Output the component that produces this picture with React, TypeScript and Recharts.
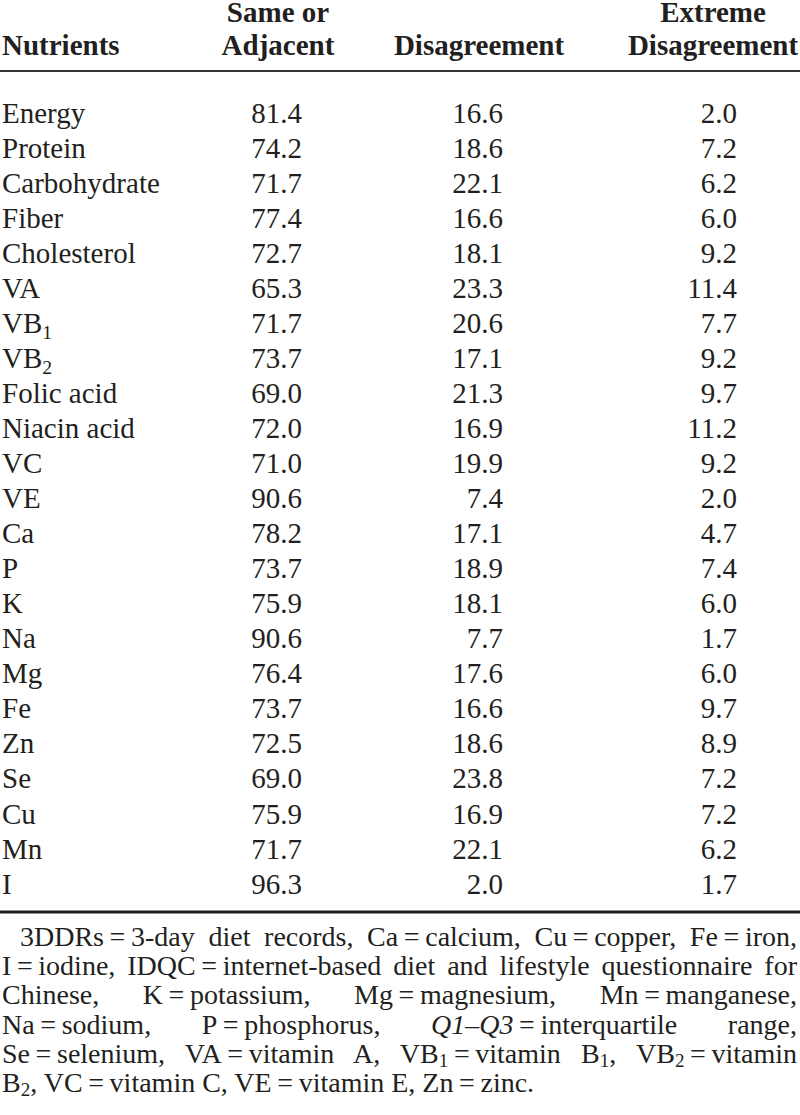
import React from "react";
import { ScatterChart, Scatter, XAxis, YAxis, Customized } from "recharts";

const nutrients = [
  "Energy", "Protein", "Carbohydrate", "Fiber", "Cholesterol", "VA", "VB_1", "VB_2",
  "Folic acid", "Niacin acid", "VC", "VE", "Ca", "P", "K", "Na", "Mg", "Fe", "Zn",
  "Se", "Cu", "Mn", "I",
];
const sameOrAdjacent = [
  81.4, 74.2, 71.7, 77.4, 72.7, 65.3, 71.7, 73.7, 69.0, 72.0, 71.0, 90.6, 78.2, 73.7,
  75.9, 90.6, 76.4, 73.7, 72.5, 69.0, 75.9, 71.7, 96.3,
];
const disagreement = [
  16.6, 18.6, 22.1, 16.6, 18.1, 23.3, 20.6, 17.1, 21.3, 16.9, 19.9, 7.4, 17.1, 18.9,
  18.1, 7.7, 17.6, 16.6, 18.6, 23.8, 16.9, 22.1, 2.0,
];
const extremeDisagreement = [
  2.0, 7.2, 6.2, 6.0, 9.2, 11.4, 7.7, 9.2, 9.7, 11.2, 9.2, 2.0, 4.7, 7.4, 6.0, 1.7,
  6.0, 9.7, 8.9, 7.2, 7.2, 6.2, 1.7,
];
const columns = ["name", "same", "dis", "ext"];
const headerLines = [["Nutrients"], ["Same or", "Adjacent"], ["Disagreement"], ["Extreme", "Disagreement"]];
const footnoteLines = [
  "3DDRs = 3-day diet records, Ca = calcium, Cu = copper, Fe = iron,",
  "I = iodine, IDQC = internet-based diet and lifestyle questionnaire for",
  "Chinese, K = potassium, Mg = magnesium, Mn = manganese,",
  "Na = sodium, P = phosphorus, *Q1–Q3* = interquartile range,",
  "Se = selenium, VA = vitamin A, VB_1 = vitamin B_1, VB_2 = vitamin",
  "B_2, VC = vitamin C, VE = vitamin E, Zn = zinc.",
];

const INK = "#231f20";
const FONT = '"Liberation Serif", "Times New Roman", serif';
const FS = 29;
const W = 800;
const CHART_H = 915;
const ROW_TOP = 95;
const ROW_H = 35.05;

// where each column's text hangs relative to its band centre
const colLayout: Record<string, { anchor: "start" | "end"; dx: number }> = {
  name: { anchor: "start", dx: -98 },
  same: { anchor: "end", dx: 2 },
  dis: { anchor: "end", dx: 3 },
  ext: { anchor: "end", dx: 37 },
};
// header text: x and anchor per column
const headerPos: { x: number; anchor: "start" | "middle" }[] = [
  { x: 2, anchor: "start" },
  { x: 278, anchor: "middle" },
  { x: 479, anchor: "middle" },
  { x: 713, anchor: "middle" },
];
const headerBase = [22, 55];

const series = [
  { key: "name", values: nutrients },
  { key: "same", values: sameOrAdjacent.map((v) => v.toFixed(1)) },
  { key: "dis", values: disagreement.map((v) => v.toFixed(1)) },
  { key: "ext", values: extremeDisagreement.map((v) => v.toFixed(1)) },
];

function splitSub(label: string) {
  const [main, sub] = label.split("_");
  return { main, sub };
}

function CellText(props: any) {
  const { cx, cy, payload } = props;
  const lay = colLayout[payload.column];
  const { main, sub } = splitSub(String(payload.label));
  return (
    <text
      x={cx + lay.dx}
      y={cy + 10}
      textAnchor={lay.anchor}
      fontFamily={FONT}
      fontSize={FS}
      fill={INK}
    >
      {main}
      {sub && (
        <tspan fontSize={FS * 0.68} dy={6}>
          {sub}
        </tspan>
      )}
    </text>
  );
}

function Frame() {
  return (
    <g>
      {headerLines.map((lines, c) =>
        lines.map((t, j) => (
          <text
            key={`${c}-${j}`}
            x={headerPos[c].x}
            y={headerBase[lines.length === 1 ? 1 : j]}
            textAnchor={headerPos[c].anchor}
            fontFamily={FONT}
            fontSize={FS}
            fontWeight="bold"
            fill={INK}
          >
            {t}
          </text>
        ))
      )}
      <line x1={0} x2={W} y1={71} y2={71} stroke="#333" strokeWidth={2} />
      <line x1={0} x2={W} y1={912} y2={912} stroke="#1e1e1e" strokeWidth={3} />
    </g>
  );
}

function FootLine({ text }: { text: string }) {
  const parts = text.split(/(\*[^*]+\*|_\d| = )/).filter((p) => p !== "");
  return (
    <>
      {parts.map((p, i) => {
        if (p === " = ") return <span key={i}>{"\u2009=\u2009"}</span>;
        if (p.startsWith("*")) return <i key={i}>{p.slice(1, -1)}</i>;
        if (p.startsWith("_"))
          return (
            <span key={i} style={{ fontSize: "0.68em", verticalAlign: "-0.2em", lineHeight: 0 }}>
              {p.slice(1)}
            </span>
          );
        return <span key={i}>{p}</span>;
      })}
    </>
  );
}

export default function App() {
  return (
    <div style={{ position: "absolute", left: 0, top: 0, width: W, height: 1115, background: "#fff" }}>
      <ScatterChart
        width={W}
        height={CHART_H}
        margin={{ top: ROW_TOP, right: 0, left: 0, bottom: CHART_H - ROW_TOP - ROW_H * nutrients.length }}
      >
        <XAxis
          type="category"
          dataKey="column"
          domain={columns}
          allowDuplicatedCategory={false}
          hide
        />
        <YAxis
          type="category"
          dataKey="nutrient"
          domain={nutrients}
          allowDuplicatedCategory={false}
          reversed
          hide
        />
        {series.map((s) => (
          <Scatter
            key={s.key}
            data={nutrients.map((n, i) => ({ nutrient: n, column: s.key, label: s.values[i] }))}
            shape={CellText}
            isAnimationActive={false}
          />
        ))}
        <Customized component={Frame} />
      </ScatterChart>
      <div
        style={{
          position: "absolute",
          left: 2,
          top: 922,
          width: 795,
          fontFamily: FONT,
          fontSize: 28,
          lineHeight: "29.2px",
          color: INK,
        }}
      >
        {footnoteLines.map((line, i) => (
          <div
            key={i}
            style={{
              textAlign: "justify",
              textAlignLast: i === footnoteLines.length - 1 ? "left" : "justify",
              textIndent: i === 0 ? 18 : 0,
            }}
          >
            <FootLine text={line} />
          </div>
        ))}
      </div>
    </div>
  );
}
